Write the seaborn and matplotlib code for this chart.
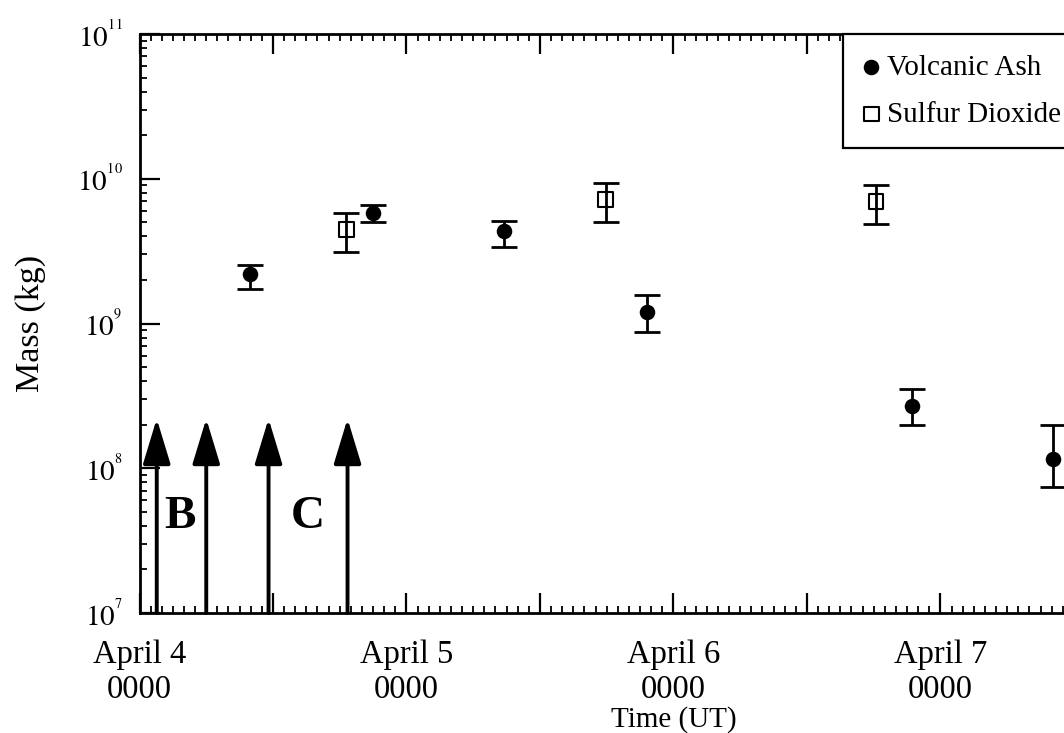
import numpy as np
import pandas as pd
import matplotlib
matplotlib.use("Agg")
import matplotlib.pyplot as plt
import seaborn as sns
from matplotlib.ticker import MultipleLocator, LogLocator, NullFormatter

# --- data (hours since April 4 0000 UT) ---
ash_time = [9.9, 21.0, 32.8, 45.6, 69.4, 82.1]
ash_mass = [2.2e9, 5.8e9, 4.35e9, 1.2e9, 2.7e8, 1.16e8]
ash_lo = [1.72e9, 5.0e9, 3.35e9, 8.7e8, 2.0e8, 7.45e7]
ash_hi = [2.54e9, 6.55e9, 5.1e9, 1.58e9, 3.55e8, 2.0e8]

so2_time = [18.6, 41.9, 66.2]
so2_mass = [4.47e9, 7.2e9, 7.0e9]
so2_lo = [3.13e9, 5.0e9, 4.84e9]
so2_hi = [5.84e9, 9.4e9, 9.0e9]

arrow_times = [1.55, 6.0, 11.6, 18.7]
arrow_top = 2.2e8
letter_labels = ['B', 'C']
letter_times = [3.64, 15.15]
letter_y = 4.6e7

tick_hours = [0, 12, 24, 36, 48, 60, 72, 84, 96]
tick_labels = ['April 4\n0000', '', 'April 5\n0000', '', 'April 6\n0000', '',
               'April 7\n0000', '', '']
ytick_vals = [1e7, 1e8, 1e9, 1e10, 1e11]
ytick_exps = [7, 8, 9, 10, 11]

ash = pd.DataFrame({'t': ash_time, 'm': ash_mass})
so2 = pd.DataFrame({'t': so2_time, 'm': so2_mass})

sns.set_theme(style='ticks')
plt.rcParams['font.family'] = ['Liberation Serif', 'DejaVu Serif']
plt.rcParams['mathtext.fontset'] = 'stix'
for key in ['text.color', 'axes.labelcolor', 'xtick.color', 'ytick.color', 'axes.edgecolor']:
    plt.rcParams[key] = 'black'

fig, ax = plt.subplots(figsize=(10.64, 7.33), dpi=100)
ax.set_position([139.5 / 1064, 1 - 613 / 733, 1068 / 1064, 579 / 733])

# error bars
ax.errorbar(ash_time, ash_mass,
            yerr=[np.array(ash_mass) - np.array(ash_lo), np.array(ash_hi) - np.array(ash_mass)],
            fmt='none', ecolor='black', elinewidth=2, capsize=9.5, capthick=2, zorder=2)
ax.errorbar(so2_time, so2_mass,
            yerr=[np.array(so2_mass) - np.array(so2_lo), np.array(so2_hi) - np.array(so2_mass)],
            fmt='none', ecolor='black', elinewidth=2, capsize=9.5, capthick=2, zorder=2)

# markers
sns.scatterplot(data=ash, x='t', y='m', ax=ax, marker='o', s=125, color='black',
                edgecolor='black', linewidth=0, label='Volcanic Ash', zorder=3)
sns.scatterplot(data=so2, x='t', y='m', ax=ax, marker='s', s=115, facecolor='none',
                edgecolor='black', linewidth=1.5, label='Sulfur Dioxide', zorder=3)

# eruption arrows
for t in arrow_times:
    ax.annotate('', xy=(t, arrow_top), xytext=(t, 1e7),
                arrowprops=dict(arrowstyle='-|>,head_length=2.8,head_width=0.85',
                                color='black', lw=2.8, shrinkA=0, shrinkB=0,
                                mutation_scale=10))
for lab, t in zip(letter_labels, letter_times):
    ax.text(t, letter_y, lab, fontsize=34, fontweight='bold', ha='center', va='center',
            color='black')

ax.set_yscale('log')
ax.set_ylim(1e7, 1e11)
ax.set_xlim(0, 96)

ax.set_xticks(tick_hours)
ax.set_xticklabels(tick_labels, fontsize=23.5, linespacing=1.2)
ax.xaxis.set_minor_locator(MultipleLocator(1))
ax.yaxis.set_minor_locator(LogLocator(base=10, subs=np.arange(2, 10), numticks=20))
ax.yaxis.set_minor_formatter(NullFormatter())
ax.set_yticks(ytick_vals)
ax.set_yticklabels([r'$10^{{}^{%d}}$' % e for e in ytick_exps], fontsize=21)

ax.tick_params(which='both', direction='in', top=True, right=True, colors='black')
ax.tick_params(which='major', length=14.5, width=1.6)
ax.tick_params(which='minor', length=5, width=1.3)
ax.tick_params(axis='x', which='major', pad=19)
ax.tick_params(axis='y', which='major', pad=12)

for sp in ax.spines.values():
    sp.set_linewidth(2)
    sp.set_color('black')

ax.set_xlabel('Time (UT)', fontsize=21, labelpad=1)
ax.set_ylabel('Mass (kg)', fontsize=24.5, labelpad=22)

leg = ax.legend(loc='upper left', bbox_to_anchor=(703.5 / 1068, 1.0), borderaxespad=0,
                fontsize=21, frameon=True, fancybox=False, framealpha=1,
                edgecolor='black', handlelength=0.55, handletextpad=0.25,
                borderpad=0.7, labelspacing=0.7)
leg.get_frame().set_linewidth(1.6)
for txt in leg.get_texts():
    txt.set_color('black')

fig.savefig('out.png', dpi=100)
